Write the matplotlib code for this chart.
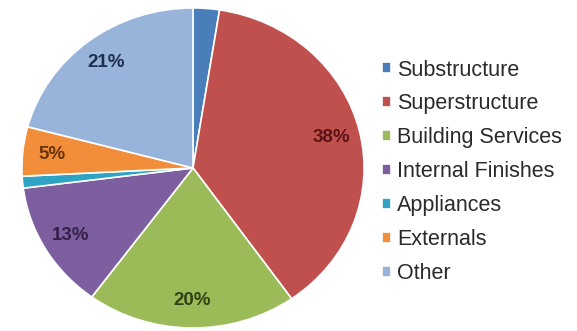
#pie chart - cost breakdown
import matplotlib.pyplot as plt

#datos
categorias = ['Substructure', 'Superstructure', 'Building Services',
              'Internal Finishes', 'Appliances', 'Externals', 'Other']
valores = [2.5, 38, 20, 13, 1.2, 5, 21]
colores = ['#4a7ebb', '#c0504d', '#9bbb59', '#7d5fa0', '#2fa3c4', '#f28e3a', '#98b4da']
colores_texto = ['#1f3550', '#5a1414', '#2f4216', '#32214a', '#124a5a', '#6b3308', '#1f2f4f']

plt.rcParams['font.family'] = ['Liberation Sans', 'DejaVu Sans']

fig = plt.figure(figsize=(5.77, 3.31), dpi=100)
ax = fig.add_axes([0.038, 0.009, 0.593, 0.967])

def etiqueta(p):
    return '%d%%' % round(p) if p >= 4 else ''

wedges, textos, autotextos = ax.pie(valores, colors=colores, startangle=90, counterclock=False,
                                    autopct=etiqueta, pctdistance=0.83,
                                    wedgeprops=dict(edgecolor='white', linewidth=1.2),
                                    textprops=dict(fontsize=13.5, fontweight='bold'))
for t, c in zip(autotextos, colores_texto):
    t.set_color(c)

ax.set_xlim(-1.0, 1.0)
ax.set_ylim(-1.0, 1.0)
ax.set_aspect('auto')

#leyenda
fig.legend(wedges, categorias, loc='center left', bbox_to_anchor=(0.662, 0.481),
           frameon=False, fontsize=15.5, labelspacing=0.6, handlelength=0.4,
           handleheight=0.4, handletextpad=0.3, borderpad=0, borderaxespad=0,
           labelcolor='#2a2a2a')

fig.savefig('out.png', dpi=100)
